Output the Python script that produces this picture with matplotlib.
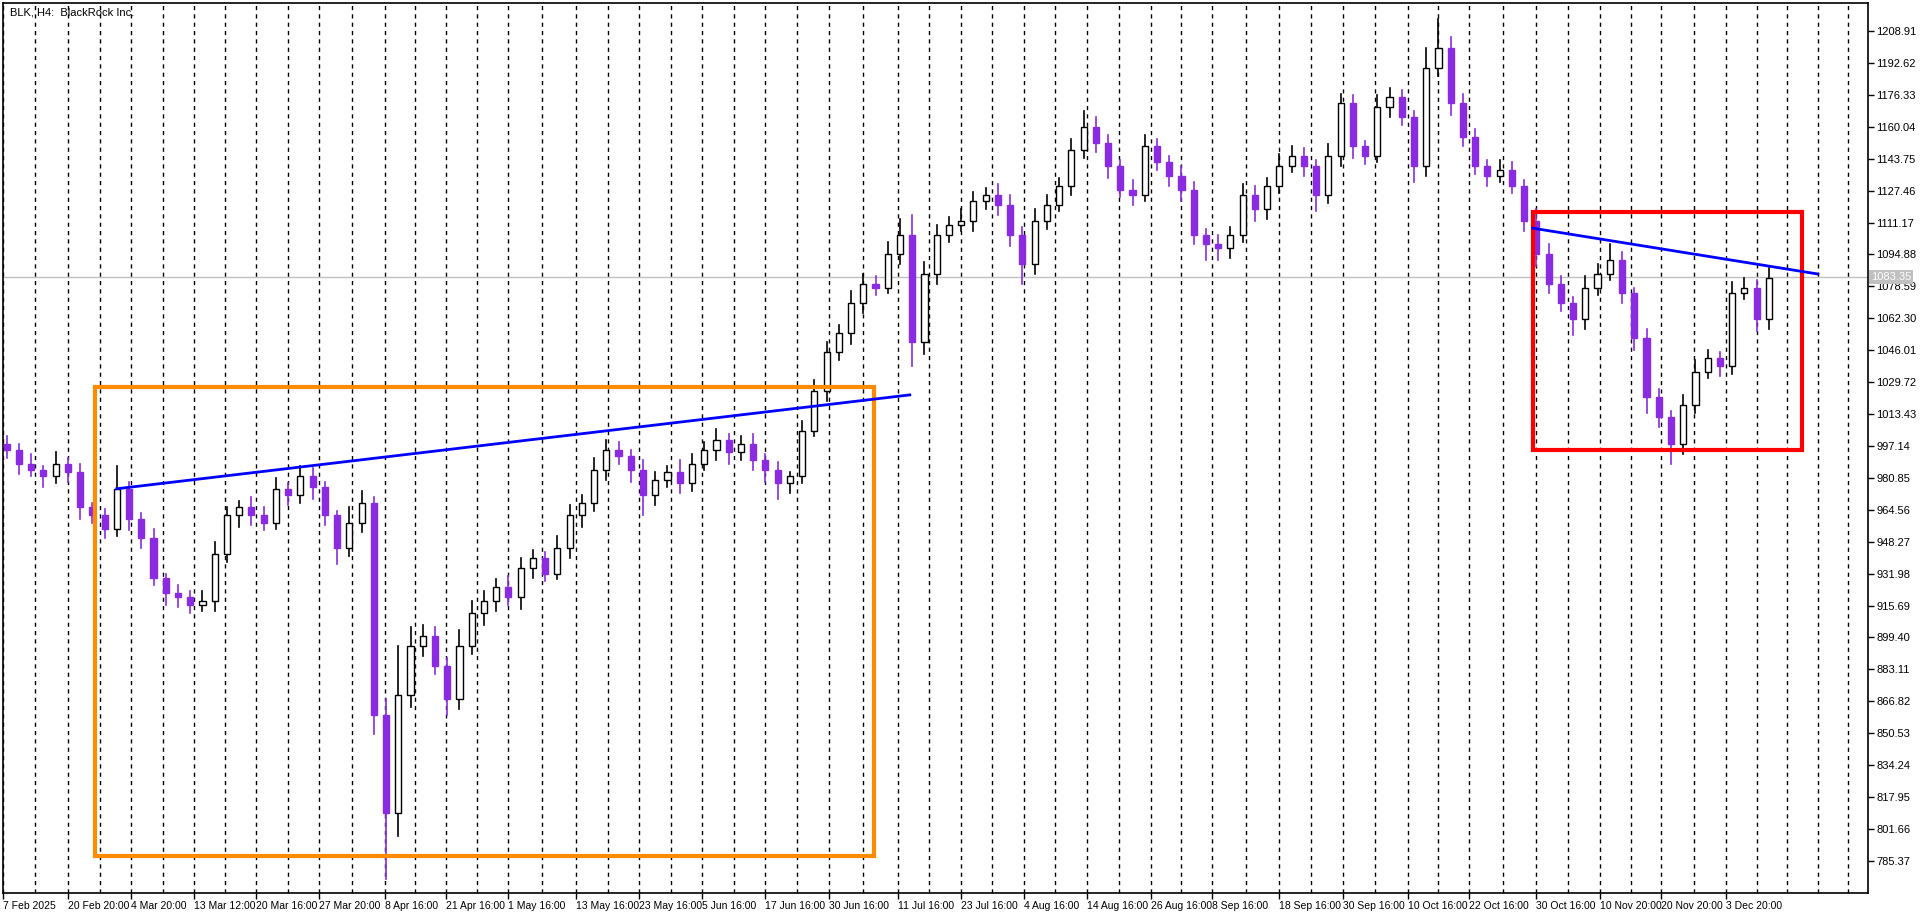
import matplotlib
matplotlib.use("Agg")
import matplotlib.pyplot as plt
from matplotlib.patches import Rectangle

plt.rcParams['font.family'] = ['Liberation Sans', 'DejaVu Sans']

closes = [995,988,985,982,988,984,966,962,955,975,960,950,930,922,920,916,918,942,962,966,
          962,958,975,972,982,976,962,945,958,968,860,810,870,895,900,885,868,895,912,918,
          925,920,935,940,932,945,962,968,985,995,992,985,972,980,984,978,988,995,1000,994,
          998,990,985,978,982,1005,1025,1045,1055,1070,1080,1078,1095,1105,1050,1085,1105,1110,1112,1122,
          1125,1120,1105,1090,1112,1120,1130,1148,1160,1152,1140,1128,1125,1150,1142,1135,1128,1105,1100,1098,
          1105,1125,1118,1130,1140,1145,1140,1125,1145,1172,1150,1145,1170,1175,1165,1140,1190,1200,1172,1155,
          1140,1135,1138,1130,1112,1095,1080,1070,1062,1078,1085,1092,1075,1052,1022,1012,998,1018,1035,1042,
          1038,1075,1078,1062,1083]
first_open = 998
upper_wick = [4,3,5,2,6,3,4,2,3,12,4,3,5,2,4,3,5,6,4,3,
              5,4,6,3,5,4,3,2,8,6,3,8,25,10,6,5,4,8,6,5,
              4,6,5,4,3,6,5,4,6,5,4,3,5,4,3,6,5,4,6,3,
              4,5,3,4,2,5,6,5,4,6,5,4,6,8,10,6,5,4,6,5,
              4,6,5,4,6,5,4,6,8,5,4,3,5,6,4,3,5,4,3,5,
              4,6,5,4,6,5,4,3,6,5,4,3,6,5,4,3,10,15,6,5,
              4,3,5,4,3,6,5,4,3,6,5,8,4,3,5,4,3,5,6,4,
              3,6,5,4,5]
lower_wick = [4,5,3,6,4,5,6,4,5,4,6,5,4,6,5,4,3,5,4,6,
              5,4,3,5,4,6,5,8,4,5,10,34,12,6,5,4,8,5,4,6,
              5,4,6,5,4,3,5,6,4,5,4,6,10,5,4,5,4,3,5,6,
              4,5,6,8,5,4,3,5,4,6,5,4,3,5,12,6,5,4,3,5,
              4,5,6,10,5,4,3,5,4,5,6,4,5,3,4,5,6,5,8,6,
              5,4,6,5,4,3,5,8,4,5,6,4,3,5,4,8,5,4,6,5,
              4,5,3,4,5,6,5,4,8,5,4,3,5,6,8,5,10,5,4,3,
              5,4,3,6,5]

date_labels = ["7 Feb 2025","20 Feb 20:00","4 Mar 20:00","13 Mar 12:00","20 Mar 16:00","27 Mar 20:00",
               "8 Apr 16:00","21 Apr 16:00","1 May 16:00","13 May 16:00","23 May 16:00","5 Jun 16:00",
               "17 Jun 16:00","30 Jun 16:00","11 Jul 16:00","23 Jul 16:00","4 Aug 16:00","14 Aug 16:00",
               "26 Aug 16:00","8 Sep 16:00","18 Sep 16:00","30 Sep 16:00","10 Oct 16:00","22 Oct 16:00",
               "30 Oct 16:00","10 Nov 20:00","20 Nov 20:00","3 Dec 20:00"]
date_pos = [-0.3,5.0,10.2,15.3,20.4,25.5,30.9,35.9,41.0,46.5,51.7,56.8,62.0,67.2,72.8,78.0,83.1,88.3,
            93.5,98.5,104.0,109.2,114.5,119.5,125.0,130.2,135.2,140.5]
price_ticks = [785.37,801.66,817.95,834.24,850.53,866.82,883.11,899.40,915.69,931.98,948.27,964.56,
               980.85,997.14,1013.43,1029.72,1046.01,1062.30,1078.59,1094.88,1111.17,1127.46,1143.75,
               1160.04,1176.33,1192.62,1208.91]
last_price = 1083.35

orange_box = (7.2, 787.8, 70.9, 1027.4)
red_box = (124.7, 995.0, 146.7, 1116.7)
trend1 = ([9.0, 73.8], [975.3, 1023.2])
trend2 = ([124.7, 148.0], [1108.3, 1084.9])

W, H = 1920, 915
fig = plt.figure(figsize=(19.2, 9.15), dpi=100)
ax = fig.add_axes([3/W, 22/H, (1868-3)/W, (893-3)/H])
ax.set_xlim(-0.25, 152.1)
ax.set_ylim(769.0, 1223.2)

grid_x = list(date_pos)
for a, b in zip(date_pos[:-1], date_pos[1:]):
    grid_x.append((a + b) / 2)
grid_x += [143.0, 145.5, 148.0, 150.5]
for gx in grid_x:
    ax.axvline(gx, color="black", lw=1, ls=(0, (3, 3)), zorder=0)

ax.axhline(last_price, color="#c0c0c0", lw=1, zorder=1)

opens = [first_open] + closes[:-1]
bw = 0.5
for i, (o, c) in enumerate(zip(opens, closes)):
    hi = max(o, c) + upper_wick[i]
    lo = min(o, c) - lower_wick[i]
    bull = c >= o
    col = "black" if bull else "#8A2BE2"
    ax.plot([i, i], [lo, hi], color=col, lw=1.2, zorder=2)
    ax.add_patch(Rectangle((i - bw/2, min(o, c)), bw, max(abs(c - o), 0.6),
                           facecolor="white" if bull else "#8A2BE2",
                           edgecolor=col, lw=1, zorder=3))

x0, y0, x1, y1 = orange_box
ax.add_patch(Rectangle((x0, y0), x1 - x0, y1 - y0, fill=False, edgecolor="#FF8C00", lw=3, zorder=4))
x0, y0, x1, y1 = red_box
ax.add_patch(Rectangle((x0, y0), x1 - x0, y1 - y0, fill=False, edgecolor="#FF0000", lw=3, zorder=4))
ax.plot(*trend1, color="#0000FF", lw=2, zorder=5)
ax.plot(*trend2, color="#0000FF", lw=2, zorder=5)

ax.yaxis.tick_right()
ax.set_yticks(price_ticks)
ax.set_yticklabels([f"{v:.2f}" for v in price_ticks], fontsize=8)
ax.set_xticks(date_pos)
ax.set_xticklabels(date_labels, fontsize=7.5, ha="left")
ax.tick_params(axis="both", length=4, width=1, pad=2)
for s in ax.spines.values():
    s.set_linewidth(1.2)

ax.text(152.35, last_price, f"{last_price:.2f}", fontsize=8, color="white",
        va="center", ha="left", bbox=dict(facecolor="#c0c0c0", edgecolor="none", pad=1.5),
        zorder=6, clip_on=False)
ax.text(0.004, 0.995, "BLK, H4:  BlackRock Inc.", transform=ax.transAxes, fontsize=8,
        va="top", ha="left")

fig.savefig("out.png", dpi=100)
